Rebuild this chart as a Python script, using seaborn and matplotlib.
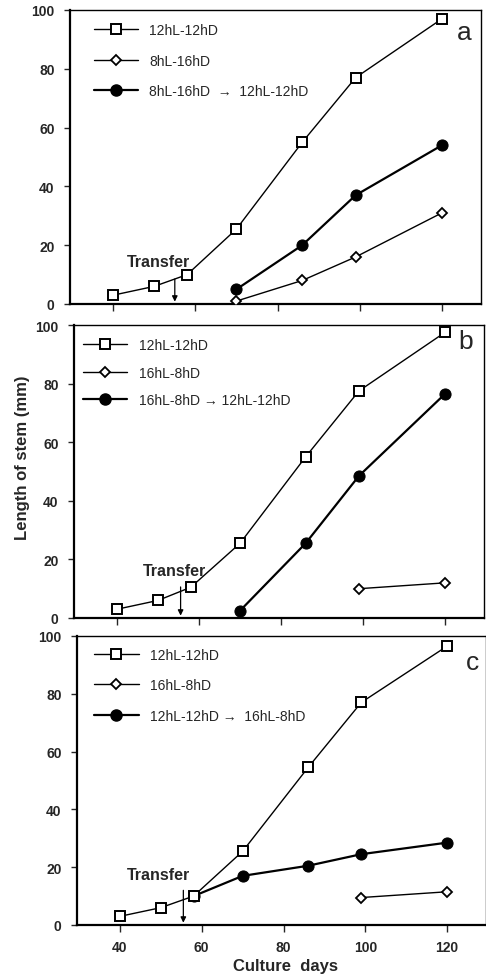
import matplotlib
matplotlib.use("Agg")
import matplotlib.pyplot as plt
import seaborn as sns
from matplotlib.lines import Line2D

sns.set_style("white")
plt.rcParams['font.family'] = ['Liberation Sans', 'DejaVu Sans']

# ---- data ----
days_ctrl = [40, 50, 58, 70, 86, 99, 120]

# panel a
a_ctrl = [3, 6, 10, 25.5, 55, 77, 97]
a_days_short = [70, 86, 99, 120]
a_short = [1, 8, 16, 31]
a_days_tr = [70, 86, 99, 120]
a_tr = [5, 20, 37, 54]

# panel b
b_ctrl = [3, 6, 10.5, 25.5, 55, 77.5, 97.5]
b_days_long = [99, 120]
b_long = [10, 12]
b_days_tr = [70, 86, 99, 120]
b_tr = [2.5, 25.5, 48.5, 76.5]

# panel c
c_ctrl = [3, 6, 10, 25.5, 54.5, 77, 96.5]
c_days_long = [99, 120]
c_long = [9.5, 11.5]
c_days_tr = [58, 70, 86, 99, 120]
c_tr = [10, 17, 20.5, 24.5, 28.5]

labels_a = ["12hL-12hD", "8hL-16hD", "8hL-16hD  \u2192  12hL-12hD"]
labels_b = ["12hL-12hD", "16hL-8hD", "16hL-8hD \u2192 12hL-12hD"]
labels_c = ["12hL-12hD", "16hL-8hD", "12hL-12hD \u2192  16hL-8hD"]

xticks = [40, 60, 80, 100, 120]
yticks = [0, 20, 40, 60, 80, 100]

W, H = 486, 979
fig = plt.figure(figsize=(W / 100, H / 100), dpi=100)

def px_axes(left, top, right, bottom):
    return fig.add_axes([left / W, 1 - bottom / H, (right - left) / W, (bottom - top) / H])

axes = [px_axes(70, 11, 481, 305), px_axes(74, 326, 484, 619), px_axes(77, 637, 486, 926)]

sq = dict(marker='s', markersize=7, markerfacecolor='white', markeredgecolor='black',
          markeredgewidth=1.4, color='black', linewidth=1.0)
di = dict(marker='D', markersize=5, markerfacecolor='white', markeredgecolor='black',
          markeredgewidth=1.3, color='black', linewidth=1.0)
ci = dict(marker='o', markersize=8, markerfacecolor='black', markeredgecolor='black',
          color='black', linewidth=1.6)

panels = [
    (axes[0], a_ctrl, a_days_short, a_short, a_days_tr, a_tr, labels_a, 'a',
     (0.96, 0.925), (51, 14.5), (55, 8.5), (0.058, 0.955), 1.18),
    (axes[1], b_ctrl, b_days_long, b_long, b_days_tr, b_tr, labels_b, 'b',
     (0.955, 0.945), (54, 16.2), (55.5, 10.6), (0.022, 0.955), 0.96),
    (axes[2], c_ctrl, c_days_long, c_long, c_days_tr, c_tr, labels_c, 'c',
     (0.966, 0.91), (49.5, 17.6), (55.5, 12), (0.042, 0.96), 1.2),
]

for i, (ax, ctrl, dx2, y2, dx3, y3, labs, letter, lpos, tpos, apos, legpos, lsp) in enumerate(panels):
    sns.lineplot(x=dx3, y=y3, ax=ax, zorder=2, **ci)
    sns.lineplot(x=days_ctrl, y=ctrl, ax=ax, zorder=3, **sq)
    sns.lineplot(x=dx2, y=y2, ax=ax, zorder=3, **di)

    ax.set_xlim(29.5, 129.5)
    ax.set_ylim(0, 100)
    ax.set_xticks(xticks)
    ax.set_yticks(yticks)
    ax.set_xlabel("")
    ax.set_ylabel("")
    ax.tick_params(axis='x', direction='out', length=5, width=1.0, bottom=True, pad=6,
                   labelsize=10)
    ax.tick_params(axis='y', direction='out', length=4, width=1.0, left=True, pad=7,
                   labelsize=10)
    if i < 2:
        ax.set_xticklabels([])
    for lab in ax.get_xticklabels() + ax.get_yticklabels():
        lab.set_fontweight('bold')
    for s in ['left', 'bottom']:
        ax.spines[s].set_linewidth(1.6)
    for s in ['top', 'right']:
        ax.spines[s].set_linewidth(1.0)
    for s in ax.spines.values():
        s.set_color('black')

    handles = [Line2D([], [], **sq), Line2D([], [], **di), Line2D([], [], **ci)]
    ax.legend(handles, labs, loc='upper left', bbox_to_anchor=legpos, frameon=False,
              handlelength=3.2, handletextpad=0.8, labelspacing=lsp, fontsize=10,
              borderaxespad=0, borderpad=0)

    ax.text(lpos[0], lpos[1], letter, transform=ax.transAxes, fontsize=19,
            ha='center', va='center')
    ax.text(tpos[0], tpos[1], "Transfer", fontsize=11.5, fontweight='bold',
            ha='center', va='center')
    ax.annotate("", xy=(apos[0], 0.8), xytext=apos,
                arrowprops=dict(arrowstyle='-|>', color='black', lw=0.9,
                                mutation_scale=8, shrinkA=0, shrinkB=0))

fig.text(22 / W, 1 - 458 / H, "Length of stem (mm)", rotation=90, fontsize=12,
         fontweight='bold', ha='center', va='center')
fig.text(285 / W, 1 - 967 / H, "Culture  days", fontsize=12, fontweight='bold',
         ha='center', va='center')

fig.savefig("out.png", dpi=100)
